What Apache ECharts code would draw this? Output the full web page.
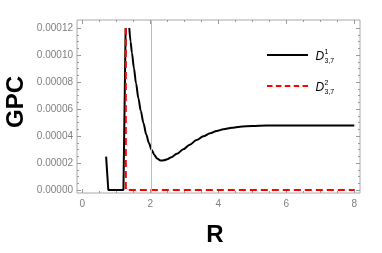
<!DOCTYPE html>
<html>
<head>
<meta charset="utf-8">
<script src="https://cdn.jsdelivr.net/npm/echarts@6/dist/echarts.min.js"></script>
<style>html,body{margin:0;padding:0;background:#fff}#c{width:382px;height:253px}</style>
</head>
<body>
<div id="c"></div>
<script>
// ---- data ----
const xTicks = [0, 2, 4, 6, 8];
const yTicks = [0, 0.00002, 0.00004, 0.00006, 0.00008, 0.0001, 0.00012];
const markR = 2.04; // thin vertical reference line
// D^1_{3,7}: left (piecewise straight) part
const d1Left = [[0.70, 0.0000247], [0.765, 0], [1.21, 0], [1.275, 0.00012]];
// D^1_{3,7}: right branch
const d1Right = [
  [1.382, 0.000120], [1.42, 0.000110], [1.46, 0.0001015], [1.52, 0.000090],
  [1.58, 0.000079], [1.65, 0.000068], [1.72, 0.0000585], [1.80, 0.0000495],
  [1.88, 0.0000412], [1.96, 0.0000348], [2.04, 0.0000297], [2.12, 0.0000259],
  [2.20, 0.0000233], [2.30, 0.0000218], [2.40, 0.0000220], [2.50, 0.0000228],
  [2.60, 0.0000241], [2.78, 0.0000268], [2.97, 0.0000301], [3.16, 0.0000336],
  [3.36, 0.0000370], [3.56, 0.0000398], [3.76, 0.0000420], [3.95, 0.0000437],
  [4.15, 0.0000450], [4.40, 0.0000461], [4.64, 0.0000469], [5.0, 0.0000474],
  [5.42, 0.0000477], [6.0, 0.0000477], [7.0, 0.0000477], [8.0, 0.0000477]
];
// D^2_{3,7}
const d2 = [[1.28, 0.00012], [1.28, 0], [8.0, 0]];

const chart = echarts.init(document.getElementById('c'), null, {renderer: 'canvas'});
const tickCol = '#9a9a9a';
const labCol = '#7f7f7f';
const font = 'Liberation Sans, Arial, sans-serif';

function tickAxis(extra) {
  return Object.assign({
    type: 'value',
    gridIndex: 1,
    axisLine: {show: false, onZero: false},
    axisTick: {show: true, inside: true, length: 4, lineStyle: {color: tickCol, width: 1}},
    minorTick: {show: true, splitNumber: 4, length: 2, lineStyle: {color: tickCol, width: 1}},
    splitLine: {show: false},
    minorSplitLine: {show: false},
    axisLabel: {show: false}
  }, extra);
}

chart.setOption({
  animation: false,
  backgroundColor: '#fff',
  grid: [
    {left: 77, top: 20, width: 283, height: 173, show: true, borderColor: '#a8a8a8', borderWidth: 1, backgroundColor: 'transparent'},
    {left: 82.3, top: 28, width: 272, height: 162, show: false}
  ],
  xAxis: [
    {type: 'value', gridIndex: 0, min: -0.156, max: 8.168, show: false},
    tickAxis({position: 'bottom', offset: 3, min: xTicks[0], max: xTicks[xTicks.length - 1], interval: 2,
      axisLabel: {show: true, color: labCol, fontSize: 10, fontFamily: font, margin: 6}}),
    tickAxis({position: 'top', offset: 8, min: xTicks[0], max: xTicks[xTicks.length - 1], interval: 2})
  ],
  yAxis: [
    {type: 'value', gridIndex: 0, min: -0.0000022, max: 0.0001259, show: false},
    tickAxis({position: 'left', offset: 5.3, min: yTicks[0], max: yTicks[yTicks.length - 1], interval: 0.00002,
      axisLabel: {show: true, color: labCol, fontSize: 10, fontFamily: font, margin: 4,
        formatter: v => v.toFixed(5)}}),
    tickAxis({position: 'right', offset: 5.7, min: yTicks[0], max: yTicks[yTicks.length - 1], interval: 0.00002})
  ],
  series: [
    {type: 'line', xAxisIndex: 0, yAxisIndex: 0, data: [], silent: true,
      markLine: {symbol: 'none', silent: true, label: {show: false},
        lineStyle: {color: '#bdbdbd', width: 1, type: 'solid'}, data: [{xAxis: markR}]}},
    {type: 'line', xAxisIndex: 1, yAxisIndex: 1, data: d1Left, showSymbol: false, clip: false,
      lineStyle: {color: '#000', width: 2}},
    {type: 'line', xAxisIndex: 1, yAxisIndex: 1, data: d1Right, showSymbol: false, clip: false,
      smooth: 0.3, smoothMonotone: 'x',
      lineStyle: {color: '#000', width: 2}},
    {type: 'line', xAxisIndex: 1, yAxisIndex: 1, data: d2, showSymbol: false, clip: false,
      lineStyle: {color: '#ff0000', width: 2, type: [7, 4]}}
  ],
  graphic: [
    {type: 'text', x: 16, y: 102, rotation: Math.PI / 2,
      style: {text: 'GPC', font: 'bold 24px ' + font, fill: '#000', align: 'center', verticalAlign: 'middle'}},
    {type: 'text', x: 215, y: 235,
      style: {text: 'R', font: 'bold 24px ' + font, fill: '#000', align: 'center', verticalAlign: 'middle'}},
    // legend
    {type: 'line', shape: {x1: 267, y1: 55, x2: 308, y2: 55}, style: {stroke: '#000', lineWidth: 2}},
    {type: 'text', x: 315.5, y: 57, style: {text: 'D', font: 'italic 12px ' + font, fill: '#000', verticalAlign: 'middle'}},
    {type: 'text', x: 324.5, y: 52.5, style: {text: '1', font: '7px ' + font, fill: '#000', verticalAlign: 'middle'}},
    {type: 'text', x: 324.5, y: 61.5, style: {text: '3,7', font: '7px ' + font, fill: '#000', verticalAlign: 'middle'}},
    {type: 'line', shape: {x1: 267, y1: 86, x2: 308, y2: 86}, style: {stroke: '#ff0000', lineWidth: 2, lineDash: [5.5, 3.4]}},
    {type: 'text', x: 315.5, y: 88, style: {text: 'D', font: 'italic 12px ' + font, fill: '#000', verticalAlign: 'middle'}},
    {type: 'text', x: 324.5, y: 83, style: {text: '2', font: '7px ' + font, fill: '#000', verticalAlign: 'middle'}},
    {type: 'text', x: 324.5, y: 92.5, style: {text: '3,7', font: '7px ' + font, fill: '#000', verticalAlign: 'middle'}}
  ]
});
</script>
</body>
</html>
